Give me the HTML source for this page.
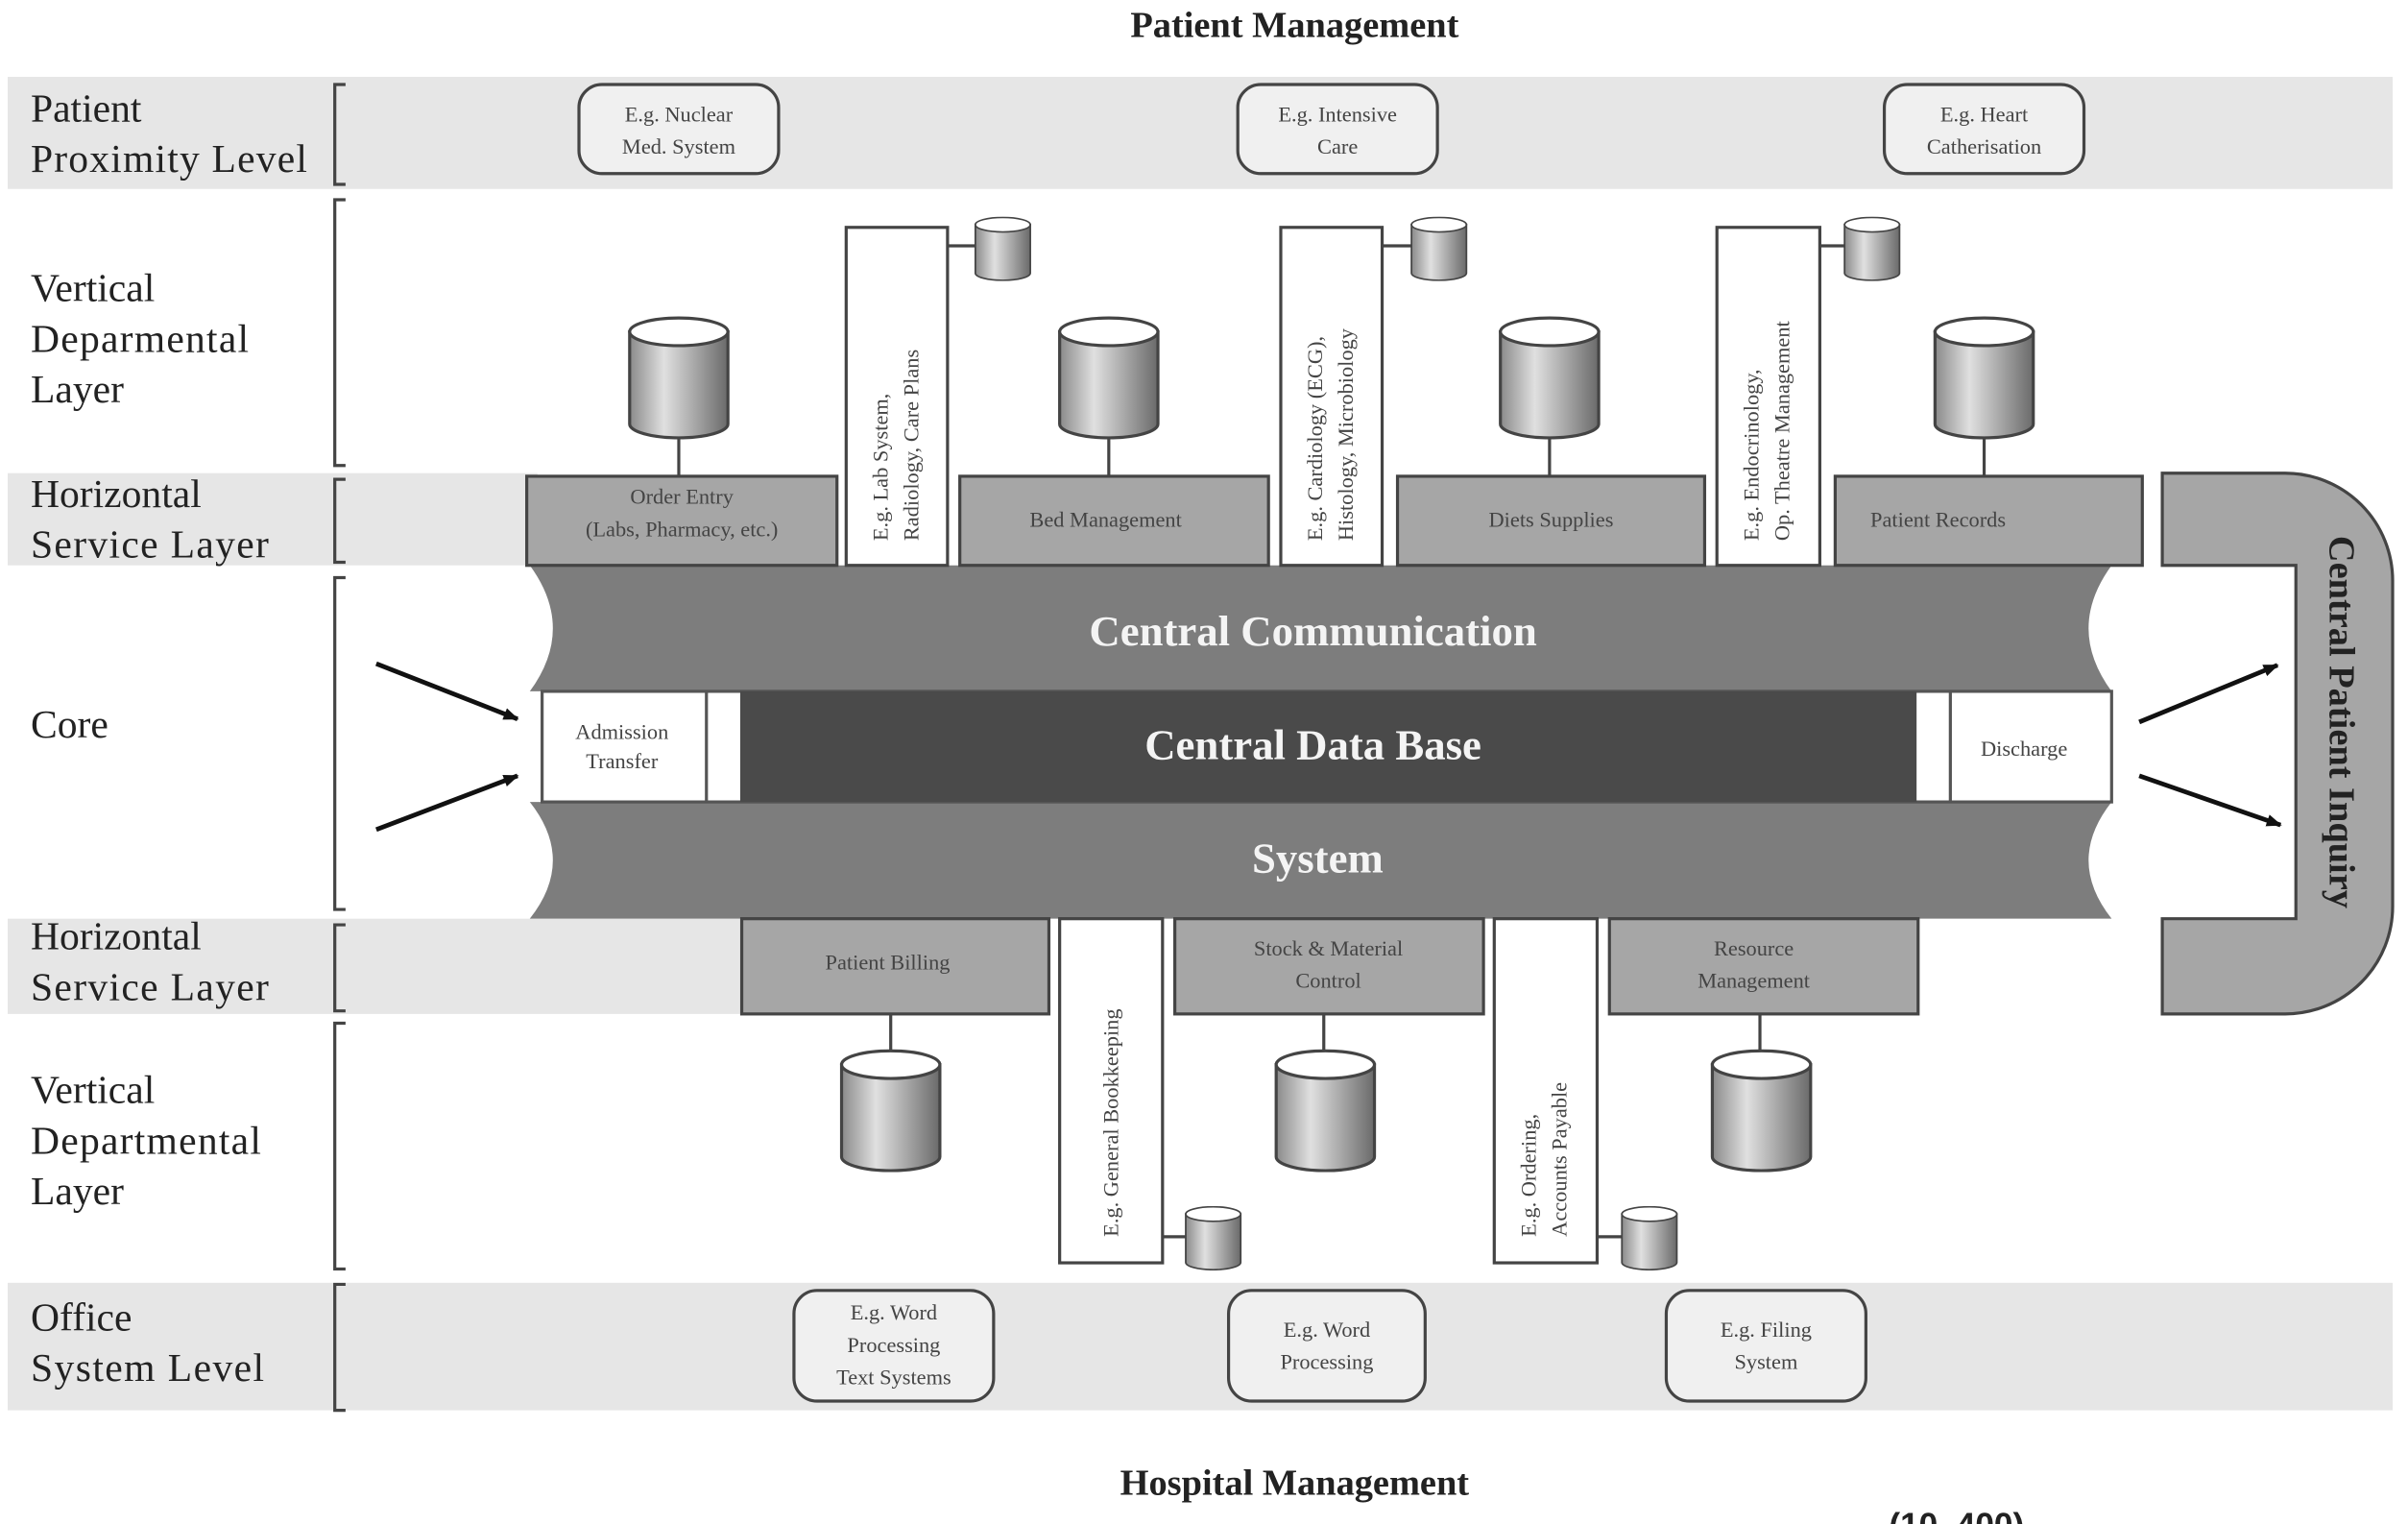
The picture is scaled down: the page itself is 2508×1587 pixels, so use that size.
<!DOCTYPE html>
<html><head><meta charset="utf-8"><style>html,body{margin:0;padding:0;background:#fff;}svg{display:block;}</style></head>
<body>
<svg width="2508" height="1587" viewBox="0 0 1568 992" preserveAspectRatio="none" xmlns="http://www.w3.org/2000/svg" font-family="Liberation Serif, serif">
<defs>
<linearGradient id="cyl" x1="0" x2="1" y1="0" y2="0">
<stop offset="0" stop-color="#8a8a8a"/><stop offset="0.35" stop-color="#e0e0e0"/><stop offset="1" stop-color="#6a6a6a"/>
</linearGradient>
<marker id="ah" markerWidth="10" markerHeight="8" refX="9" refY="4" orient="auto" markerUnits="userSpaceOnUse"><path d="M0,0 L10,4 L0,8 z" fill="#111"/></marker>
<symbol id="cy" viewBox="0 0 68 80" preserveAspectRatio="none">
<path d="M2,10 L2,70 A32,9 0 0 0 66,70 L66,10 Z" fill="url(#cyl)" stroke="#444" stroke-width="2"/>
<ellipse cx="34" cy="10" rx="32" ry="9" fill="#fff" stroke="#444" stroke-width="2"/>
</symbol>
</defs>
<rect x="5" y="50" width="1553" height="73" fill="#e6e6e6"/>
<rect x="5" y="308" width="345" height="60" fill="#e6e6e6"/>
<rect x="5" y="598" width="480" height="62" fill="#e6e6e6"/>
<rect x="5" y="835" width="1553" height="83" fill="#e6e6e6"/>
<text x="843" y="24" font-size="24" font-weight="bold" text-anchor="middle" fill="#222">Patient Management</text>
<text x="843" y="973" font-size="24" font-weight="bold" text-anchor="middle" fill="#222">Hospital Management</text>
<text x="1230" y="1000" font-size="22" font-weight="bold" font-family="Liberation Sans, sans-serif" fill="#222">(10, 400)</text>
<g fill="none" stroke="#444" stroke-width="2">
<path d="M225,55 L218,55 L218,120 L225,120"/>
<path d="M225,130 L218,130 L218,303 L225,303"/>
<path d="M225,312 L218,312 L218,366 L225,366"/>
<path d="M225,376 L218,376 L218,592 L225,592"/>
<path d="M225,602 L218,602 L218,658 L225,658"/>
<path d="M225,666 L218,666 L218,826 L225,826"/>
<path d="M225,836 L218,836 L218,918 L225,918"/>
</g>
<g font-size="26" fill="#222">
<text x="20" y="79">Patient</text><text x="20" y="112" textLength="180">Proximity Level</text>
<text x="20" y="196">Vertical</text><text x="20" y="229" textLength="142">Deparmental</text><text x="20" y="262">Layer</text>
<text x="20" y="330">Horizontal</text><text x="20" y="363" textLength="155">Service Layer</text>
<text x="20" y="480">Core</text>
<text x="20" y="618">Horizontal</text><text x="20" y="651" textLength="155">Service Layer</text>
<text x="20" y="718">Vertical</text><text x="20" y="751" textLength="150">Departmental</text><text x="20" y="784">Layer</text>
<text x="20" y="866">Office</text><text x="20" y="899" textLength="152">System Level</text>
</g>
<g fill="#f0f0f0" stroke="#444" stroke-width="2">
<rect x="377" y="55" width="130" height="58" rx="15"/>
<rect x="806" y="55" width="130" height="58" rx="15"/>
<rect x="1227" y="55" width="130" height="58" rx="15"/>
<rect x="517" y="840" width="130" height="72" rx="15"/>
<rect x="800" y="840" width="128" height="72" rx="15"/>
<rect x="1085" y="840" width="130" height="72" rx="15"/>
</g>
<g font-size="14" fill="#444" text-anchor="middle">
<text x="442" y="79">E.g. Nuclear</text><text x="442" y="100">Med. System</text>
<text x="871" y="79">E.g. Intensive</text><text x="871" y="100">Care</text>
<text x="1292" y="79">E.g. Heart</text><text x="1292" y="100">Catherisation</text>
<text x="582" y="859">E.g. Word</text><text x="582" y="880">Processing</text><text x="582" y="901">Text Systems</text>
<text x="864" y="870">E.g. Word</text><text x="864" y="891">Processing</text>
<text x="1150" y="870">E.g. Filing</text><text x="1150" y="891">System</text>
</g>
<g stroke="#444" stroke-width="2">
<line x1="442" y1="280" x2="442" y2="310"/><line x1="722" y1="280" x2="722" y2="310"/>
<line x1="1009" y1="280" x2="1009" y2="310"/><line x1="1292" y1="280" x2="1292" y2="310"/>
<line x1="617" y1="160" x2="636" y2="160"/><line x1="900" y1="160" x2="919" y2="160"/><line x1="1185" y1="160" x2="1201" y2="160"/>
<line x1="580" y1="660" x2="580" y2="690"/><line x1="862" y1="660" x2="862" y2="690"/><line x1="1146" y1="660" x2="1146" y2="690"/>
<line x1="757" y1="805" x2="773" y2="805"/><line x1="1040" y1="805" x2="1056" y2="805"/>
</g>
<use href="#cy" x="408" y="206" width="68" height="80"/>
<use href="#cy" x="688" y="206" width="68" height="80"/>
<use href="#cy" x="975" y="206" width="68" height="80"/>
<use href="#cy" x="1258" y="206" width="68" height="80"/>
<use href="#cy" x="634" y="141" width="38" height="42"/>
<use href="#cy" x="918" y="141" width="38" height="42"/>
<use href="#cy" x="1200" y="141" width="38" height="42"/>
<use href="#cy" x="546" y="683" width="68" height="80"/>
<use href="#cy" x="829" y="683" width="68" height="80"/>
<use href="#cy" x="1113" y="683" width="68" height="80"/>
<use href="#cy" x="771" y="785" width="38" height="42"/>
<use href="#cy" x="1055" y="785" width="38" height="42"/>
<path d="M1408,308 L1488,308 A70,70 0 0 1 1558,378 L1558,590 A70,70 0 0 1 1488,660 L1408,660 L1408,598 L1495,598 L1495,368 L1408,368 Z" fill="#a6a6a6" stroke="#444" stroke-width="2"/>
<text transform="translate(1517,470) rotate(90)" font-size="24" font-weight="bold" fill="#222" text-anchor="middle">Central Patient Inquiry</text>
<path d="M345,368 L1375,368 Q1345,409 1375,450 L345,450 Q375,409 345,368 Z" fill="#7d7d7d"/>
<path d="M345,522 L1375,522 Q1345,560 1375,598 L345,598 Q375,560 345,522 Z" fill="#7d7d7d"/>
<rect x="353" y="450" width="1022" height="72" fill="#fff" stroke="#555" stroke-width="2"/>
<rect x="482" y="450" width="766" height="72" fill="#4a4a4a"/>
<line x1="460" y1="450" x2="460" y2="522" stroke="#555" stroke-width="2"/>
<line x1="1270" y1="450" x2="1270" y2="522" stroke="#555" stroke-width="2"/>
<g font-weight="bold" fill="#f4f4f4" text-anchor="middle" font-size="28">
<text x="855" y="420">Central Communication</text>
<text x="855" y="494">Central Data Base</text>
<text x="858" y="568">System</text>
</g>
<g font-size="14" fill="#444" text-anchor="middle">
<text x="405" y="481">Admission</text><text x="405" y="500">Transfer</text>
<text x="1318" y="492">Discharge</text>
</g>
<g fill="#a6a6a6" stroke="#444" stroke-width="2">
<rect x="343" y="310" width="202" height="58"/><rect x="625" y="310" width="201" height="58"/>
<rect x="910" y="310" width="200" height="58"/><rect x="1195" y="310" width="200" height="58"/>
<rect x="483" y="598" width="200" height="62"/><rect x="765" y="598" width="201" height="62"/>
<rect x="1048" y="598" width="201" height="62"/>
</g>
<g fill="#fff" stroke="#444" stroke-width="2">
<rect x="551" y="148" width="66" height="220"/><rect x="834" y="148" width="66" height="220"/>
<rect x="1118" y="148" width="67" height="220"/>
<rect x="690" y="598" width="67" height="224"/><rect x="973" y="598" width="67" height="224"/>
</g>
<g font-size="14" fill="#444" text-anchor="middle">
<text x="444" y="328">Order Entry</text><text x="444" y="349">(Labs, Pharmacy, etc.)</text>
<text x="720" y="343">Bed Management</text>
<text x="1010" y="343">Diets Supplies</text>
<text x="1262" y="343">Patient Records</text>
<text x="578" y="631">Patient Billing</text>
<text x="865" y="622">Stock &amp; Material</text><text x="865" y="643">Control</text>
<text x="1142" y="622">Resource</text><text x="1142" y="643">Management</text>
</g>
<g font-size="14" fill="#444">
<text transform="translate(578,352) rotate(-90)">E.g. Lab System,</text>
<text transform="translate(598,352) rotate(-90)">Radiology, Care Plans</text>
<text transform="translate(861,352) rotate(-90)">E.g. Cardiology (ECG),</text>
<text transform="translate(881,352) rotate(-90)">Histology, Microbiology</text>
<text transform="translate(1145,352) rotate(-90)">E.g. Endocrinology,</text>
<text transform="translate(1165,352) rotate(-90)">Op. Theatre Management</text>
<text transform="translate(728,805) rotate(-90)">E.g. General Bookkeeping</text>
<text transform="translate(1000,805) rotate(-90)">E.g. Ordering,</text>
<text transform="translate(1020,805) rotate(-90)">Accounts Payable</text>
</g>
<g stroke="#111" stroke-width="3" marker-end="url(#ah)">
<line x1="245" y1="432" x2="337" y2="468"/>
<line x1="245" y1="540" x2="337" y2="505"/>
<line x1="1393" y1="470" x2="1483" y2="433"/>
<line x1="1393" y1="505" x2="1485" y2="537"/>
</g>
</svg>
</body></html>
